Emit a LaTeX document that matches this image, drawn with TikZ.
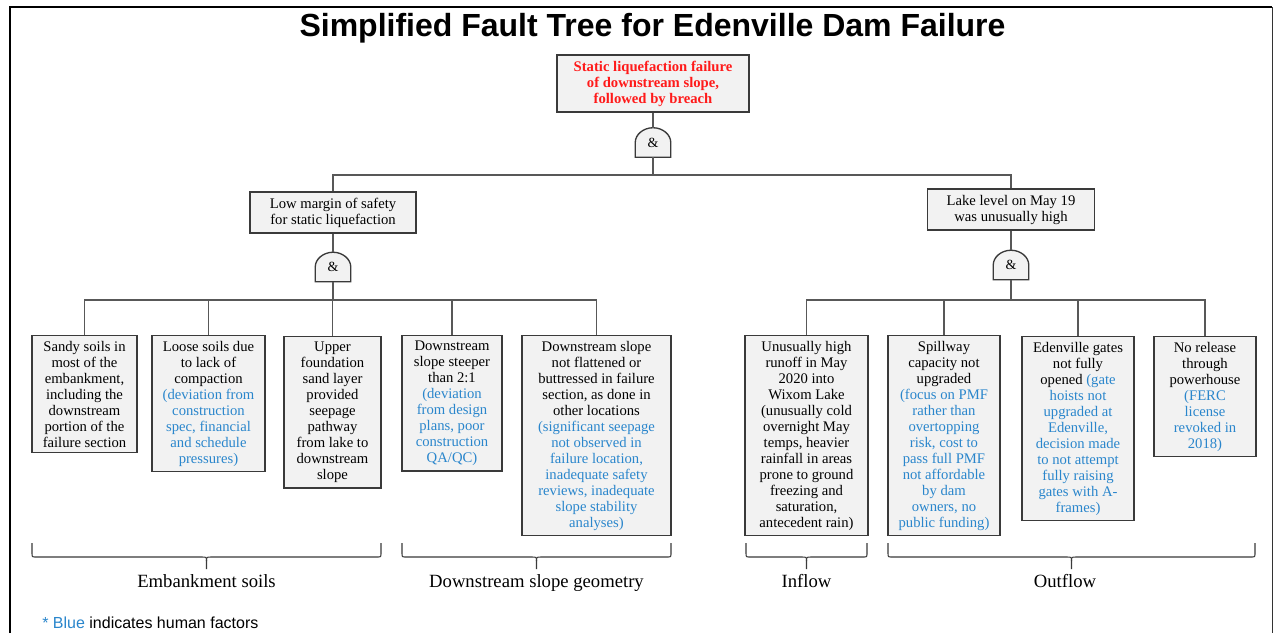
\documentclass[tikz,border=0pt]{standalone}
\usepackage{fontspec}
\setmainfont{Liberation Serif}
\newfontfamily\arialfont{Liberation Sans}
\definecolor{hb}{HTML}{2A86CC}
\definecolor{boxfill}{HTML}{F2F2F2}
\definecolor{edge}{HTML}{3A3A3A}
\definecolor{ttred}{HTML}{FF1A1A}
\pgfdeclarelayer{bg}
\pgfsetlayers{bg,main}
\newcommand\hb{\color{hb}}
\newcommand\gateshape[1]{\begin{pgfonlayer}{bg}\draw[gatest] (#1.south west) -- (#1.west) .. controls ([yshift=6pt]#1.west) and ([xshift=-7.2pt]#1.north) .. (#1.north) .. controls ([xshift=7.2pt]#1.north) and ([yshift=6pt]#1.east) .. (#1.east) -- (#1.south east) -- cycle;\end{pgfonlayer}}
\newcommand\grpbrace[3]{%
  \draw[brc] (#1,543) -- (#1,553) .. controls (#1,557) .. ({#1+4},557) -- ({#3-5},557) .. controls (#3,557) .. (#3,561) -- (#3,569);
  \draw[brc] (#2,543) -- (#2,553) .. controls (#2,557) .. ({#2-4},557) -- ({#3+5},557) .. controls (#3,557) .. (#3,561);}
\begin{document}
\begin{tikzpicture}[x=0.75pt,y=-0.75pt,
  box/.style={draw=edge, line width=1.1pt, fill=boxfill, align=center, inner xsep=2pt, inner ysep=4pt, font=\fontsize{11}{12}\selectfont},
  leaf/.style={box, anchor=north, minimum width=#1*0.75pt},
  gatenode/.style={minimum width=26.25pt, minimum height=21.75pt, inner sep=0pt, font=\fontsize{10.5}{12}\selectfont},
  gatest/.style={draw=edge, line width=1pt, fill=boxfill},
  conn/.style={draw=edge!85, line width=1pt},
  brc/.style={draw=edge, line width=0.8pt},
  grplabel/.style={font=\fontsize{14}{16}\selectfont, anchor=base},
]
\useasboundingbox (0,0) rectangle (1275,633);
\begin{pgfonlayer}{bg}
\fill[white] (0,0) rectangle (1275,633);
\end{pgfonlayer}
% frame
\draw[line width=1.3pt] (10,633) -- (10,7) -- (1272,7);
\draw[line width=0.7pt, draw=black!80] (1272,7) -- (1272,633);

\node[anchor=base, font=\arialfont\bfseries\fontsize{24}{28}\selectfont] (title) at (652.5,36) {Simplified Fault Tree for Edenville Dam Failure};

% top event
\node[box, minimum width=144pt, minimum height=42.75pt, font=\fontsize{11}{12}\selectfont\bfseries, text=ttred] (top) at (653,83.5) {Static liquefaction failure\\ of downstream slope,\\ followed by breach};
\node[gatenode] (g1) at (653,142.5) {\raisebox{-2pt}{\&}};
\gateshape{g1}

% intermediate events
\node[box, minimum width=124.5pt, minimum height=30.75pt] (midL) at (333,212.5) {Low margin of safety\\ for static liquefaction};
\node[box, minimum width=125.25pt, minimum height=30.75pt] (midR) at (1011,209.5) {Lake level on May 19\\ was unusually high};
\node[gatenode] (g2) at (333,267) {\raisebox{-2pt}{\&}};
\gateshape{g2}
\node[gatenode] (g3) at (1011,265) {\raisebox{-2pt}{\&}};
\gateshape{g3}

\coordinate (b1) at (653,175);
\coordinate (b2) at (333,300);
\coordinate (b3) at (1011,300);

% basic events
\node[leaf=105] (sandy) at (84.5,335) {Sandy soils in\\ most of the\\ embankment,\\ including the\\ downstream\\ portion of the\\ failure section};
\node[leaf=113] (loose) at (208.5,335) {Loose soils due\\ to lack of\\ compaction\\ \hb(deviation from\\ \hb construction\\ \hb spec, financial\\ \hb and schedule\\ \hb pressures)};
\node[leaf=97] (upper) at (332.5,336) {Upper\\ foundation\\ sand layer\\ provided\\ seepage\\ pathway\\ from lake to\\ downstream\\ slope};
\node[leaf=100] (steep) at (452,335) {Downstream\\ slope steeper\\ than 2:1\\ \hb(deviation\\ \hb from design\\ \hb plans, poor\\ \hb construction\\ \hb QA/QC)};
\node[leaf=149] (flat) at (596.5,335) {Downstream slope\\ not flattened or\\ buttressed in failure\\ section, as done in\\ other locations\\ \hb(significant seepage\\ \hb not observed in\\ \hb failure location,\\ \hb inadequate safety\\ \hb reviews, inadequate\\ \hb slope stability\\ \hb analyses)};
\node[leaf=123] (runoff) at (806.5,335) {Unusually high\\ runoff in May\\ 2020 into\\ Wixom Lake\\ (unusually cold\\ overnight May\\ temps, heavier\\ rainfall in areas\\ prone to ground\\ freezing and\\ saturation,\\ antecedent rain)};
\node[leaf=112] (spill) at (944,335) {Spillway\\ capacity not\\ upgraded\\ \hb(focus on PMF\\ \hb rather than\\ \hb overtopping\\ \hb risk, cost to\\ \hb pass full PMF\\ \hb not affordable\\ \hb by dam\\ \hb owners, no\\ \hb public funding)};
\node[leaf=112] (gates) at (1078,336) {Edenville gates\\ not fully\\ opened {\hb(gate}\\ \hb hoists not\\ \hb upgraded at\\ \hb Edenville,\\ \hb decision made\\ \hb to not attempt\\ \hb fully raising\\ \hb gates with A-\\ \hb frames)};
\node[leaf=102] (norel) at (1205,336) {No release\\ through\\ powerhouse\\ \hb(FERC\\ \hb license\\ \hb revoked in\\ \hb 2018)};

% connectors
\draw[conn] (top) -- (g1);
\draw[conn] (g1.south) -- (b1);
\draw[conn] (midL.north) |- (b1) -| (midR.north);
\draw[conn] (midL) -- (g2);
\draw[conn] (midR) -- (g3);
\draw[conn] (g2.south) -- (b2);
\draw[conn] (g3.south) -- (b3);
\draw[conn] (sandy.north) |- (b2) -| (flat.north);
\draw[conn] (loose.north) -- (loose.north |- b2);
\draw[conn] (upper.north) -- (upper.north |- b2);
\draw[conn] (steep.north) -- (steep.north |- b2);
\draw[conn] (runoff.north) |- (b3) -| (norel.north);
\draw[conn] (spill.north) -- (spill.north |- b3);
\draw[conn] (gates.north) -- (gates.north |- b3);

% group braces
\grpbrace{32}{381}{206.5}
\grpbrace{402}{671}{536.5}
\grpbrace{746}{867}{806.5}
\grpbrace{888}{1255}{1071.5}
\node[grplabel] (gEmb) at (206.5,587) {Embankment soils};
\node[grplabel] (gDs) at (536.5,587) {Downstream slope geometry};
\node[grplabel] (gIn) at (806.5,587) {Inflow};
\node[grplabel] (gOut) at (1065,587) {Outflow};

\node[anchor=base west, inner sep=0pt, font=\arialfont\fontsize{12}{14}\selectfont] (note) at (42,628) {\textcolor{hb}{* Blue} indicates human factors};
\end{tikzpicture}
\end{document}
